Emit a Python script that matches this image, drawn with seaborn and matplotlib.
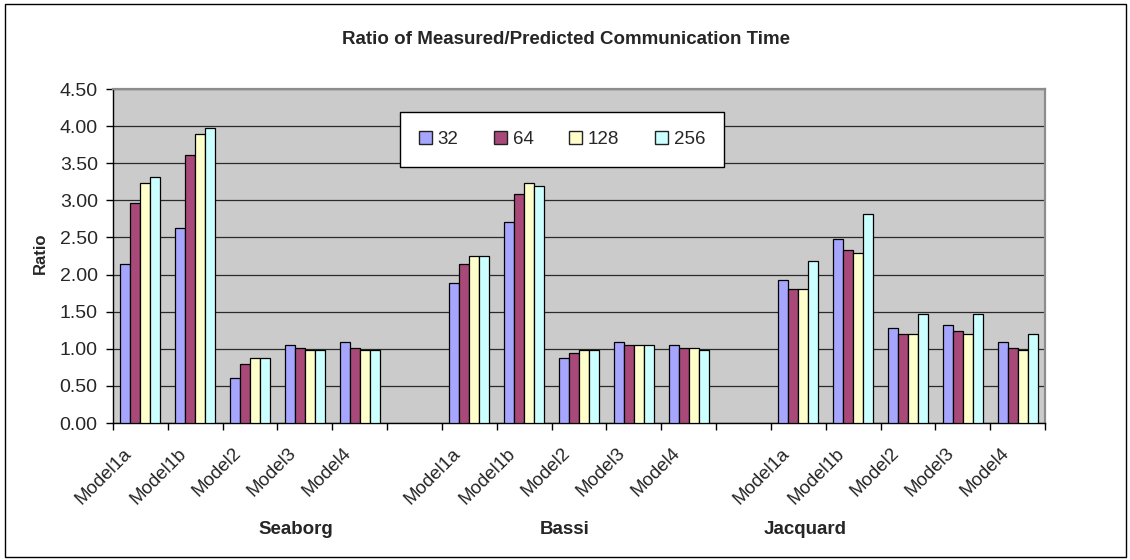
import numpy as np
import pandas as pd
import matplotlib
matplotlib.use("Agg")
import matplotlib.pyplot as plt
import seaborn as sns
from matplotlib.patches import Patch, Rectangle
from matplotlib.transforms import blended_transform_factory, ScaledTranslation

# ---- data -------------------------------------------------------------
machines = ["Seaborg", "Bassi", "Jacquard"]
models = ["Model1a", "Model1b", "Model2", "Model3", "Model4"]
procs = ["32", "64", "128", "256"]

seaborg_32 = [2.14, 2.63, 0.60, 1.05, 1.09]
seaborg_64 = [2.97, 3.61, 0.79, 1.01, 1.01]
seaborg_128 = [3.23, 3.90, 0.87, 0.98, 0.98]
seaborg_256 = [3.31, 3.98, 0.87, 0.98, 0.98]

bassi_32 = [1.88, 2.71, 0.87, 1.09, 1.05]
bassi_64 = [2.14, 3.08, 0.94, 1.05, 1.01]
bassi_128 = [2.25, 3.23, 0.98, 1.05, 1.01]
bassi_256 = [2.25, 3.19, 0.98, 1.05, 0.98]

jacquard_32 = [1.92, 2.48, 1.28, 1.32, 1.09]
jacquard_64 = [1.81, 2.33, 1.20, 1.24, 1.01]
jacquard_128 = [1.81, 2.29, 1.20, 1.20, 0.98]
jacquard_256 = [2.18, 2.82, 1.47, 1.47, 1.20]

series = {
    "Seaborg": [seaborg_32, seaborg_64, seaborg_128, seaborg_256],
    "Bassi": [bassi_32, bassi_64, bassi_128, bassi_256],
    "Jacquard": [jacquard_32, jacquard_64, jacquard_128, jacquard_256],
}

colors = ["#a6a6ff", "#a8497a", "#ffffcc", "#ccffff"]

# long table: one row per bar
rows = []
for m in machines:
    for p, vals in zip(procs, series[m]):
        for model, v in zip(models, vals):
            rows.append({"slot": f"{m}|{model}", "procs": p, "ratio": v})
df = pd.DataFrame(rows)

# category order, with an empty slot between machines
order = []
for i, m in enumerate(machines):
    order += [f"{m}|{model}" for model in models]
    if i < len(machines) - 1:
        order.append(f"gap{i}")

# ---- style ------------------------------------------------------------
sns.set_theme(style="white")
plt.rcParams["font.family"] = ["Liberation Sans", "DejaVu Sans"]

fig = plt.figure(figsize=(11.3, 5.6), dpi=100)
W, H = 1130, 560
L, R, T, B = 113, 1045, 89, 423
ax = fig.add_axes([L / W, 1 - B / H, (R - L) / W, (B - T) / H])
ax.set_facecolor("#cbcbcb")

sns.barplot(data=df, x="slot", y="ratio", hue="procs", order=order,
            hue_order=procs, palette=colors, saturation=1, width=0.73,
            edgecolor="black", linewidth=0.9, legend=False, ax=ax, zorder=3)

ax.set_xlim(-0.5, len(order) - 0.5)
ax.set_ylim(0, 4.5)
ax.set_yticks(np.arange(0, 4.51, 0.5))
ax.set_yticklabels([f"{v:.2f}" for v in np.arange(0, 4.51, 0.5)], fontsize=14)
ax.set_xticks(np.arange(-0.5, len(order), 1))
ax.set_xticklabels([])
ax.set_xlabel("")
ax.set_ylabel("")
ax.tick_params(axis="both", direction="out", length=5, width=1, color="black",
               left=True, bottom=True, pad=6)
ax.yaxis.grid(True, color="#2a2a2a", linewidth=0.9, zorder=0)
ax.set_axisbelow(True)

for side in ("left", "bottom"):
    ax.spines[side].set_color("black")
    ax.spines[side].set_linewidth(1.0)
for side in ("top", "right"):
    ax.spines[side].set_color("#8c8c8c")
    ax.spines[side].set_linewidth(1.6)

# rotated model labels under each category
trans = blended_transform_factory(ax.transData, ax.transAxes)
off = ScaledTranslation(-8 / 72, -20 / 72, fig.dpi_scale_trans)
for i, slot in enumerate(order):
    if "|" not in slot:
        continue
    name = slot.split("|")[1]
    ax.text(i, 0, name, transform=trans + off, rotation=45, ha="right",
            va="center", rotation_mode="anchor", fontsize=13.5)

# machine names beneath the labels
for name, xc in zip(machines, [296, 565, 805]):
    fig.text(xc / W, 1 - 530 / H, name, ha="center", va="center",
             fontsize=13.5, fontweight="bold")

fig.text(40 / W, 1 - 253 / H, "Ratio", rotation=90, ha="center", va="center",
         fontsize=12, fontweight="bold")
fig.text(566 / W, 1 - 40 / H, "Ratio of Measured/Predicted Communication Time",
         ha="center", va="center", fontsize=13.5, fontweight="bold")

# legend
handles = [Patch(facecolor=c, edgecolor="#222222", linewidth=1) for c in colors]
leg = ax.legend(handles, procs, ncol=4, loc="upper left",
                bbox_to_anchor=((400 - L) / (R - L), (B - 112) / (B - T)),
                borderaxespad=0, fontsize=13.5, frameon=True, fancybox=False,
                handlelength=0.7, handleheight=0.7, handletextpad=0.3,
                columnspacing=1.9, borderpad=1.0)
leg.get_frame().set_edgecolor("black")
leg.get_frame().set_linewidth(1.0)
leg.get_frame().set_facecolor("white")
leg.get_frame().set_alpha(1)
leg.set_zorder(5)

# outer chart border
fig.add_artist(Rectangle((5 / W, 3 / H), 1121 / W, 553 / H, transform=fig.transFigure,
                         fill=False, edgecolor="black", linewidth=1.0))

fig.savefig("out.png", dpi=100)
